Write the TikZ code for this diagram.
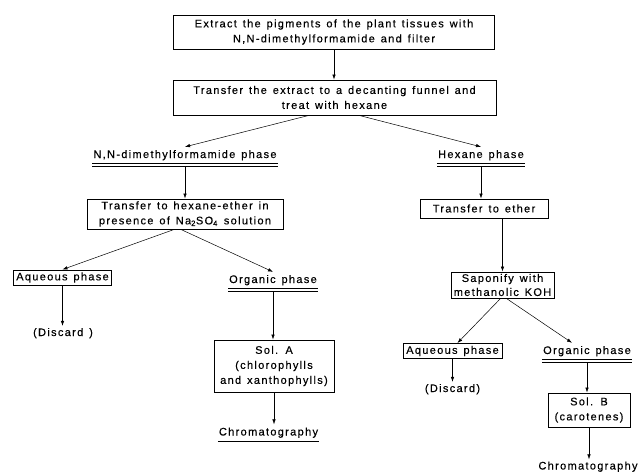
\documentclass[tikz,border=0pt]{standalone}
\usepackage{fontspec}
\setmainfont{Liberation Sans}[LetterSpace=12, WordSpace=1.35, FakeBold=0.3]
\usetikzlibrary{arrows.meta}
\begin{document}
\begin{tikzpicture}[x=1pt,y=-1pt,
  every node/.style={font=\fontsize{11}{15}\selectfont, inner sep=0pt},
  box/.style={draw, line width=1pt, align=center},
  phase/.style={anchor=base, inner xsep=1pt, inner ysep=3pt, text depth=2.5pt},
  lbl/.style={anchor=base, inner sep=2pt},
  arr/.style={-{Latex[length=5pt,width=3.5pt]}, line width=0.5pt},
  dbl/.style={double, double distance=2.4pt, line width=0.6pt},
  sgl/.style={line width=0.7pt}]
\useasboundingbox (0,0) rectangle (640,474);

% boxes
\node[box, minimum width=321pt, minimum height=34pt] (b1) at (334,32)
  {Extract the pigments of the plant tissues with\\N,N-dimethylformamide and filter};
\node[box, minimum width=323pt, minimum height=35pt] (b2) at (334.5,97.5)
  {Transfer the extract to a decanting funnel and\\treat with hexane};
\node[box, minimum width=196pt, minimum height=30pt] (b3) at (185,214)
  {Transfer to hexane-ether in\\presence of Na\textsubscript{2}SO\textsubscript{4} solution};
\node[box, minimum width=128pt, minimum height=19pt] (tte) at (484,208.5) {Transfer to ether};
\node[box, minimum width=98pt, minimum height=15pt] (aq1) at (62.5,277.5) {Aqueous phase};
\node[box, minimum width=103pt, minimum height=26pt, font=\fontsize{11}{14}\selectfont] (sap) at (502.5,285)
  {Saponify with\\methanolic KOH};
\node[box, minimum width=120pt, minimum height=52pt] (solA) at (274,366)
  {Sol. A\\(chlorophylls\\and xanthophylls)};
\node[box, minimum width=99pt, minimum height=15pt] (aq2) at (452.5,351) {Aqueous phase};
\node[box, minimum width=82pt, minimum height=34pt] (solB) at (589,410)
  {Sol. B\\(carotenes)};

% phase labels (underlined)
\node[phase] (dmf) at (185,158) {N,N-dimethylformamide phase};
\node[phase] (hex) at (481,158) {Hexane phase};
\node[phase] (org1) at (273,283) {Organic phase};
\node[phase] (org2) at (587,354) {Organic phase};
\node[phase] (chr1) at (268.5,435.5) {Chromatography};

% plain labels
\node[lbl] (dis1) at (63,336) {(Discard )};
\node[lbl] (dis2) at (452.5,392) {(Discard)};
\node[lbl] (chr2) at (588,469.5) {Chromatography};

% underlines
\foreach \n in {dmf,hex,org1,org2}
  \draw[dbl] ([yshift=-1.5pt]\n.south west) -- ([yshift=-1.5pt]\n.south east);
\draw[sgl] (chr1.south west) -- (chr1.south east);

% connectors
\draw[arr] (b1.south) -- (b1.south |- b2.north);
\draw[arr] ([xshift=-26pt]b2.south) -- (dmf.north);
\draw[arr] ([xshift=25pt]b2.south) -- (hex.north);
\draw[arr] ([yshift=-3pt]dmf.south) -- (b3.north);
\draw[arr] ([yshift=-3pt]hex.south) -- (hex.south |- tte.north);
\draw[arr] ([xshift=18.5pt]tte.south) -- (sap.north);
\draw[arr] ([xshift=-11pt]b3.south) -- (aq1.north);
\draw[arr] ([xshift=-4pt]b3.south) -- (org1.north);
\draw[arr] (aq1.south) -- (aq1.south |- dis1.north);
\draw[arr] ([yshift=-3pt]org1.south) -- (org1.south |- solA.north);
\draw[arr] (solA.south) -- (solA.south |- chr1.north);
\draw[arr] ([xshift=-2pt]sap.south) -- ([xshift=5pt]aq2.north);
\draw[arr] ([xshift=4pt]sap.south) -- ([xshift=-15pt]org2.north);
\draw[arr] (aq2.south) -- (aq2.south |- dis2.north);
\draw[arr] ([yshift=-3pt]org2.south) -- (org2.south |- solB.north);
\draw[arr] (solB.south) -- (solB.south |- chr2.north);
\end{tikzpicture}
\end{document}
